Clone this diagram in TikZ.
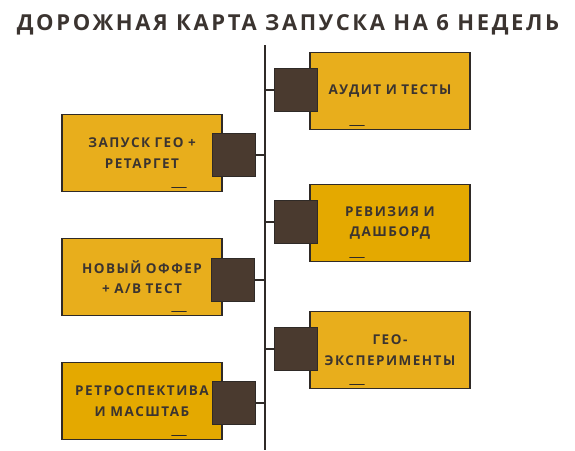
\documentclass[tikz,border=0pt]{standalone}
\usepackage{fontspec}
\setmainfont{Open Sans}
\newfontfamily\titlefont{Open Sans}[LetterSpace=12]
\newfontfamily\cardfont{Open Sans}[LetterSpace=11]
\definecolor{boxyellow}{HTML}{E8AE1C}
\definecolor{boxyellowb}{HTML}{E4A900}
\definecolor{tabbrown}{HTML}{4A3A2F}
\definecolor{inkdark}{HTML}{2F2A27}
\definecolor{textdark}{HTML}{3B3430}
\def\lw{1.8pt}
\def\mark{-- ++(14,0)}

\begin{document}
\begin{tikzpicture}[x=1pt,y=-1pt,
  card/.style={draw=inkdark, line width=\lw, fill=boxyellow, minimum width=160,
    minimum height=77, text width=156, align=center, inner sep=0pt,
    text=textdark, font=\cardfont\bfseries\fontsize{13.5}{20.5}\selectfont},
  tab/.style={draw=inkdark, line width=1.5pt, fill=tabbrown, minimum size=43, inner sep=0pt},
  wire/.style={draw=inkdark, line width=1.6pt}]
\useasboundingbox (0,0) rectangle (575,450);

\node[text=textdark, font=\titlefont\bfseries\fontsize{22}{24}\selectfont] (title) at (288,25)
  {ДОРОЖНАЯ КАРТА ЗАПУСКА НА 6 НЕДЕЛЬ};

\coordinate (top) at (265,45);
\coordinate (bot) at (265,450);
\draw[wire] (top) -- (bot);

\foreach \i/\x/\y/\tx/\ty/\col/\txt in {
  1/390/91/296/90/boxyellow/{АУДИТ И ТЕСТЫ},
  2/142/153/234/155/boxyellow/{ЗАПУСК ГЕО +\\РЕТАРГЕТ},
  3/390/223/296/222/boxyellowb/{РЕВИЗИЯ И\\ДАШБОРД},
  4/142/277/233/280/boxyellow/{НОВЫЙ ОФФЕР\\+ А/В ТЕСТ},
  5/390/350/296/349/boxyellow/{ГЕО-\\ЭКСПЕРИМЕНТЫ},
  6/142/401/234/403/boxyellowb/{РЕТРОСПЕКТИВА\\И МАСШТАБ}}{
  \node[tab] (tab\i) at (\tx,\ty) {};
  \draw[wire] (tab\i) -- (tab\i -| top);
  \node[card, fill=\col] (card\i) at (\x,\y) {\txt};
  \node[tab] at (tab\i) {};
}

% little pen strokes
\foreach \i/\dx in {1/-40, 3/-40, 5/-40, 2/30, 4/30, 6/30}{
  \draw[inkdark, line width=1.6pt, line cap=round] ([xshift=\dx, yshift=5]card\i.south) \mark;
}
\end{tikzpicture}
\end{document}
